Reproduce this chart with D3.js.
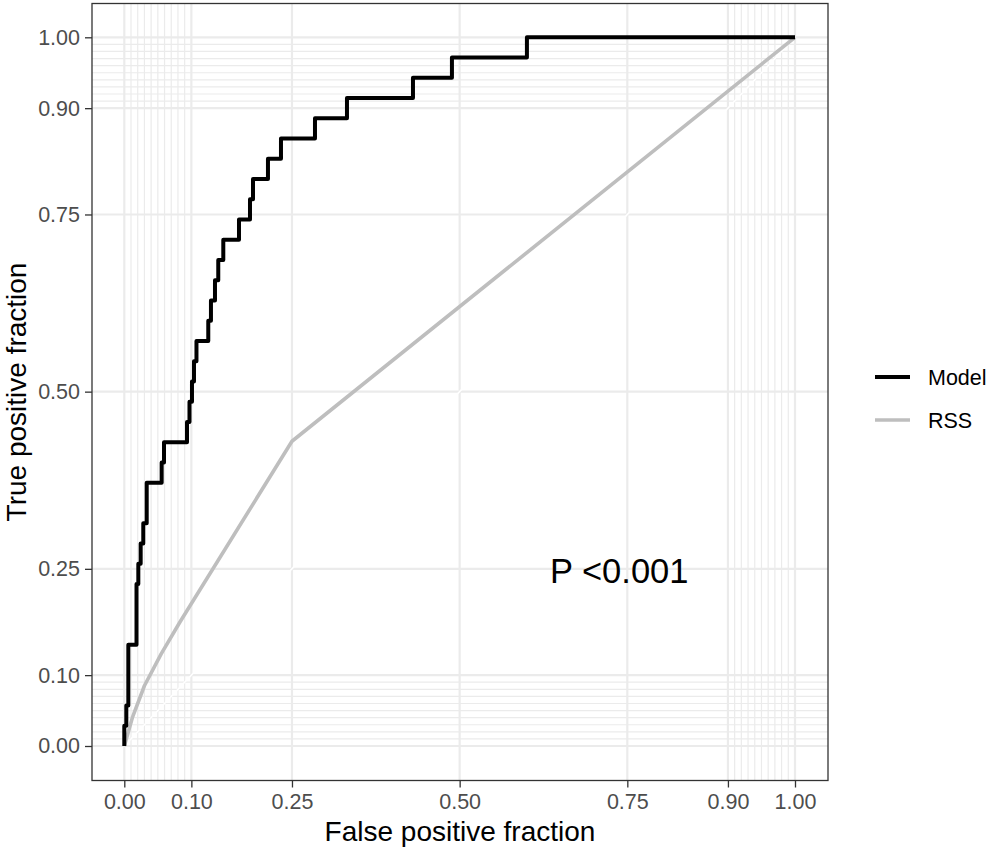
<!DOCTYPE html>
<html>
<head>
<meta charset="utf-8">
<script src="https://cdn.jsdelivr.net/npm/d3@7"></script>
<style>
  html, body { margin: 0; padding: 0; background: #fff; }
  svg { display: block; font-family: "Liberation Sans", Arial, Helvetica, sans-serif; }
</style>
</head>
<body>
<svg id="chart" width="992" height="852"></svg>
<script>
// ---- data ----
const majorBreaks = [0, 0.1, 0.25, 0.5, 0.75, 0.9, 1];
const breakLabels = ["0.00", "0.10", "0.25", "0.50", "0.75", "0.90", "1.00"];
const minorBreaks = [0.01, 0.02, 0.03, 0.04, 0.05, 0.06, 0.07, 0.08, 0.09,
                     0.91, 0.92, 0.93, 0.94, 0.95, 0.96, 0.97, 0.98, 0.99];

const modelFPR = [0, 0, 0.003, 0.006, 0.0182, 0.0209, 0.0244, 0.0283, 0.0334, 0.0557, 0.0592,
                  0.0935, 0.0972, 0.1009, 0.1039, 0.1076, 0.1252, 0.1292, 0.1352, 0.1401, 0.1476,
                  0.171, 0.1874, 0.1919, 0.2142, 0.2336, 0.2843, 0.3320, 0.4304, 0.4885, 0.6003, 1];
const modelTPR = [0, 0.0286, 0.0571, 0.1429, 0.2286, 0.2571, 0.2857, 0.3143, 0.3714, 0.4, 0.4286,
                  0.4571, 0.4857, 0.5143, 0.5429, 0.5714, 0.6, 0.6286, 0.6571, 0.6857, 0.7143,
                  0.7429, 0.7714, 0.8, 0.8286, 0.8571, 0.8857, 0.9143, 0.9429, 0.9714, 1, 1];

const rssFPR = [0, 0.012, 0.03, 0.055, 0.083, 0.25, 1];
const rssTPR = [0, 0.04, 0.085, 0.13, 0.175, 0.43, 1];

const seriesNames = ["Model", "RSS"];
const seriesColors = ["#000000", "#bebebe"];
const annotation = "P <0.001";
const xTitle = "False positive fraction";
const yTitle = "True positive fraction";

// ---- layout ----
const svg = d3.select("#chart");
const panel = { left: 92, right: 828, top: 3.5, bottom: 780.5 };
const x = d3.scaleLinear().domain([0, 1]).range([124.3, 795]);
const y = d3.scaleLinear().domain([0, 1]).range([746, 37.3]);

svg.append("rect")
  .attr("x", panel.left).attr("y", panel.top)
  .attr("width", panel.right - panel.left).attr("height", panel.bottom - panel.top)
  .attr("fill", "#fff");

const grid = svg.append("g");
grid.selectAll(".mv").data(minorBreaks).join("line")
  .attr("x1", d => x(d)).attr("x2", d => x(d))
  .attr("y1", panel.top).attr("y2", panel.bottom)
  .attr("stroke", "#ebebeb").attr("stroke-width", 1.2);
grid.selectAll(".mh").data(minorBreaks).join("line")
  .attr("y1", d => y(d)).attr("y2", d => y(d))
  .attr("x1", panel.left).attr("x2", panel.right)
  .attr("stroke", "#ebebeb").attr("stroke-width", 1.2);
grid.selectAll(".Mv").data(majorBreaks).join("line")
  .attr("x1", d => x(d)).attr("x2", d => x(d))
  .attr("y1", panel.top).attr("y2", panel.bottom)
  .attr("stroke", "#ebebeb").attr("stroke-width", 2.2);
grid.selectAll(".Mh").data(majorBreaks).join("line")
  .attr("y1", d => y(d)).attr("y2", d => y(d))
  .attr("x1", panel.left).attr("x2", panel.right)
  .attr("stroke", "#ebebeb").attr("stroke-width", 2.2);

// diagonal reference
svg.append("line")
  .attr("x1", x(0)).attr("y1", y(0)).attr("x2", x(1)).attr("y2", y(1))
  .attr("stroke", "#ffffff").attr("stroke-width", 1.6);

const stepLine = d3.line().x(d => x(d[0])).y(d => y(d[1])).curve(d3.curveStepAfter);
const straightLine = d3.line().x(d => x(d[0])).y(d => y(d[1]));

const rssPts = rssFPR.map((v, i) => [v, rssTPR[i]]);
const modelPts = modelFPR.map((v, i) => [v, modelTPR[i]]);

svg.append("path").attr("d", straightLine(rssPts))
  .attr("fill", "none").attr("stroke", seriesColors[1]).attr("stroke-width", 3.6)
  .attr("stroke-linejoin", "round");
svg.append("path").attr("d", stepLine(modelPts))
  .attr("fill", "none").attr("stroke", seriesColors[0]).attr("stroke-width", 4)
  .attr("stroke-linejoin", "round");

svg.append("rect")
  .attr("x", panel.left).attr("y", panel.top)
  .attr("width", panel.right - panel.left).attr("height", panel.bottom - panel.top)
  .attr("fill", "none").attr("stroke", "#333333").attr("stroke-width", 1.3);

const xAxis = d3.axisBottom(x).tickValues(majorBreaks)
  .tickFormat((d, i) => breakLabels[i]).tickSize(7).tickPadding(6);
const yAxis = d3.axisLeft(y).tickValues(majorBreaks)
  .tickFormat((d, i) => breakLabels[i]).tickSize(7).tickPadding(5);

const gx = svg.append("g").attr("transform", `translate(0,${panel.bottom})`).call(xAxis);
const gy = svg.append("g").attr("transform", `translate(${panel.left},0)`).call(yAxis);
[gx, gy].forEach(g => {
  g.select(".domain").remove();
  g.selectAll(".tick line").attr("stroke", "#333333").attr("stroke-width", 1.3);
  g.selectAll(".tick text").attr("fill", "#4d4d4d")
    .style("font-size", "21.5px").style("font-family", "'Liberation Sans', Arial, sans-serif");
});

svg.append("text")
  .attr("x", (panel.left + panel.right) / 2).attr("y", 841)
  .attr("text-anchor", "middle").attr("fill", "#000")
  .style("font-size", "28px").text(xTitle);
svg.append("text")
  .attr("transform", `translate(26,${(panel.top + panel.bottom) / 2}) rotate(-90)`)
  .attr("text-anchor", "middle").attr("fill", "#000")
  .style("font-size", "28px").text(yTitle);

svg.append("text")
  .attr("x", 550).attr("y", 583)
  .attr("fill", "#000").style("font-size", "34.5px").text(annotation);

const legendY = [377, 420];
const legend = svg.append("g");
seriesNames.forEach((name, i) => {
  legend.append("line")
    .attr("x1", 875).attr("x2", 910)
    .attr("y1", legendY[i]).attr("y2", legendY[i])
    .attr("stroke", seriesColors[i]).attr("stroke-width", i === 0 ? 4 : 3.6);
  legend.append("text")
    .attr("x", 928).attr("y", legendY[i]).attr("dy", "0.35em")
    .attr("fill", "#000").style("font-size", "21.5px").text(name);
});
</script>
</body>
</html>
